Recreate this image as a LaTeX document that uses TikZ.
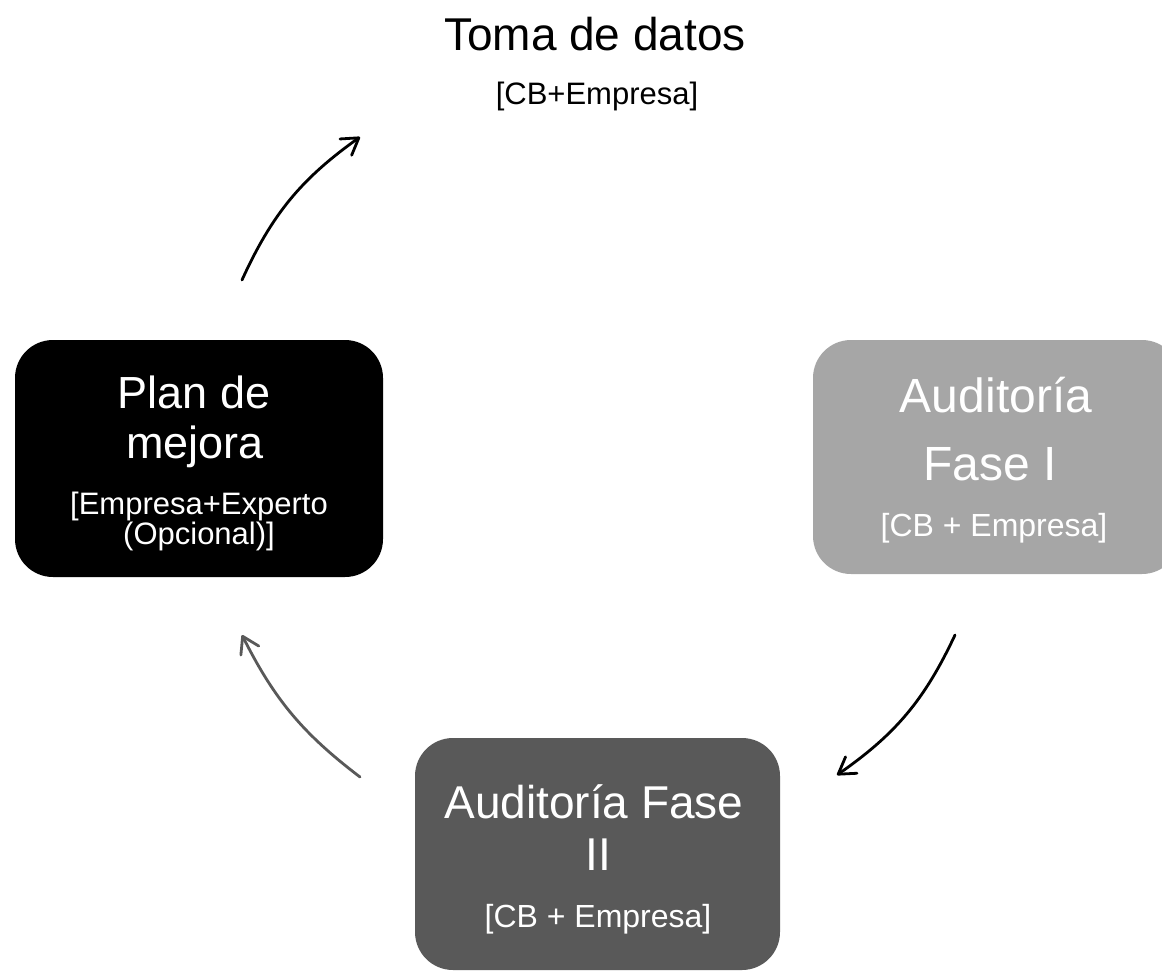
\documentclass[tikz,border=0pt]{standalone}
\usepackage{fontspec}
\setmainfont{Liberation Sans}
\usetikzlibrary{arrows.meta}
\definecolor{lightbox}{HTML}{A6A6A6}
\definecolor{darkbox}{HTML}{595959}
\begin{document}
\begin{tikzpicture}[x=1pt,y=-1pt,
  box/.style={draw=none, rounded corners=38pt, inner sep=0pt, minimum width=366pt, minimum height=235pt},
  tline/.style={inner sep=0pt, anchor=base, text=white},
  big/.style={font=\fontsize{46}{52}\selectfont},
  small/.style={font=\fontsize{32}{36}\selectfont},
  flow/.style={line width=2.8pt, line cap=round, -{Straight Barb[length=16pt,width=20pt,line cap=round,line join=round]}}]
\useasboundingbox (0,0) rectangle (1162,972);
\clip (0,0) rectangle (1162,972);

% title
\node[tline, text=black, big] (toma1) at (595,50) {Toma de datos};
\node[tline, text=black, font=\fontsize{31}{36}\selectfont] (toma2) at (597,104) {[CB+Empresa]};

% boxes
\node[box, fill=black, minimum width=368pt, minimum height=237pt] (plan) at (199,458.5) {};
\node[box, fill=lightbox, minimum width=367pt, minimum height=234pt] (fase1) at (996.5,457) {};
\node[box, fill=darkbox, minimum width=365pt, minimum height=232pt] (fase2) at (597.5,854) {};

% plan text
\node[tline, font=\fontsize{45}{52}\selectfont] (plan1) at (194,408) {Plan de};
\node[tline, font=\fontsize{45}{52}\selectfont] (plan2) at (195,458) {mejora};
\node[tline, font=\fontsize{31}{36}\selectfont] (plan3) at (199,514) {[Empresa+Experto};
\node[tline, font=\fontsize{31}{36}\selectfont] (plan4) at (199,544) {(Opcional)]};

% fase I text
\node[tline, font=\fontsize{48}{52}\selectfont] (f1a) at (996,412) {Auditoría};
\node[tline, font=\fontsize{48}{52}\selectfont] (f1b) at (990,480) {Fase I};
\node[tline, small] (f1c) at (994,536) {[CB + Empresa]};

% fase II text
\node[tline, big] (f2a) at (594,818) {Auditoría Fase};
\node[tline, big] (f2b) at (598,870) {II};
\node[tline, small] (f2c) at (598,927) {[CB + Empresa]};

% arrow end points
\coordinate (a1s) at (242,280);
\coordinate (a1e) at (360,137);
\coordinate (a2s) at (955,635);
\coordinate (a2e) at (837,775);
\coordinate (a3s) at (360,777);
\coordinate (a3e) at (242,635);

\draw[flow] (a1s) to[bend left=15] (a1e);
\draw[flow] (a2s) to[bend left=15] (a2e);
\draw[flow, darkbox] (a3s) to[bend left=13] (a3e);
\end{tikzpicture}
\end{document}
